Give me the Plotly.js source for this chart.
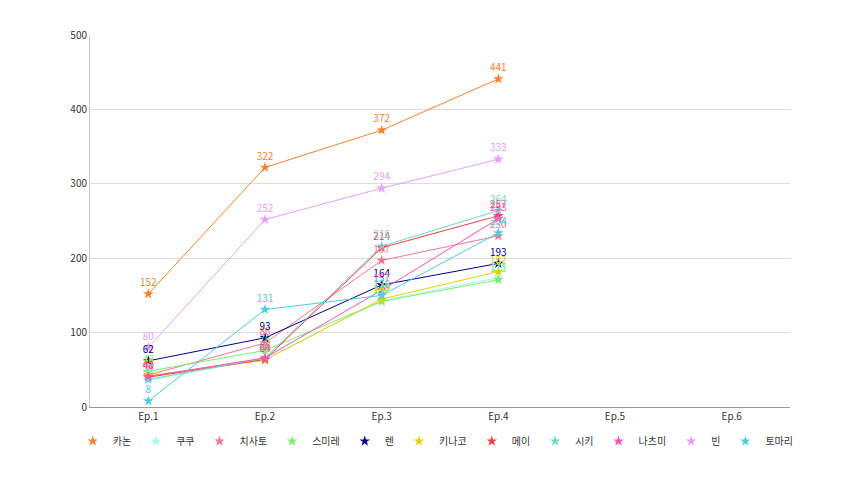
<!DOCTYPE html>
<html><head><meta charset="utf-8">
<script src="https://cdn.plot.ly/plotly-3.0.1.min.js"></script>
<style>html,body{margin:0;padding:0;background:#fff}#chart{width:850px;height:478px}</style>
</head><body><div id="chart"></div>
<script>
const episodes = ['Ep.1','Ep.2','Ep.3','Ep.4','Ep.5','Ep.6'];
const names = ['카논','쿠쿠','치사토','스미레','렌','키나코','메이','시키','나츠미','빈','토마리'];
const kanon   = [152, 322, 372, 441];
const kuku    = [36, 65, 143, 174];
const chisato = [43, 86, 197, 230];
const sumire  = [48, 76, 142, 171];
const ren     = [62, 93, 164, 193];
const kinako  = [42, 63, 145, 182];
const mei     = [40, 64, 214, 257];
const shiki   = [37, 66, 216, 264];
const natsumi = [41, 66, 157, 253];
const vien    = [80, 252, 294, 333];
const tomari  = [8, 131, 150, 234];
const seriesValues = [kanon, kuku, chisato, sumire, ren, kinako, mei, shiki, natsumi, vien, tomari];
const colors = ['#ff7f2a','#9ffcf0','#ff7392','#77f06a','#00008f','#e8d000','#ff3a3a','#6fd8cf','#ff4fbf','#e6a0fb','#4bcfe0'];

const traces = [];
// lines
names.forEach((n,i)=>{
  const v = seriesValues[i];
  traces.push({x:episodes.slice(0, v.length), y:v, type:'scatter', mode:'lines',
    line:{color:colors[i], width:1}, showlegend:false, hoverinfo:'skip', legendgroup:n});
});
// markers (legend entries)
names.forEach((n,i)=>{
  const v = seriesValues[i];
  traces.push({x:episodes.slice(0, v.length), y:v, type:'scatter', mode:'markers', name:n, legendgroup:n,
    legend: i < 6 ? 'legend' : 'legend2',
    marker:{symbol:'star', size:8, color:colors[i]}, cliponaxis:false});
});
// value labels on top (invisible markers keep the label offset)
names.forEach((n,i)=>{
  const v = seriesValues[i];
  traces.push({x:episodes.slice(0, v.length), y:v, type:'scatter', mode:'markers+text', showlegend:false,
    legendgroup:n, hoverinfo:'skip',
    marker:{symbol:'star', size:7, color:'rgba(0,0,0,0)'},
    text:v.map(String), textposition:'top center',
    textfont:{size:10, color:colors[i], family:'Noto Sans CJK KR, Noto Sans, sans-serif'},
    cliponaxis:false});
});

const legendCommon = {orientation:'h', xref:'container', yref:'container',
  y:0.077, yanchor:'middle', font:{size:10, color:'#333'}, itemwidth:30, tracegroupgap:0};

const layout = {
  width:850, height:478,
  margin:{l:90, r:60, t:35, b:71, autoexpand:false},
  paper_bgcolor:'#fff', plot_bgcolor:'#fff',
  font:{family:'Noto Sans CJK KR, Noto Sans, sans-serif', size:10, color:'#333'},
  xaxis:{type:'category', categoryorder:'array', categoryarray:episodes, range:[-0.5,5.5],
    showgrid:false, showline:true, linecolor:'#999', linewidth:1, ticks:'', zeroline:false,
    tickfont:{size:10, color:'#333'}, fixedrange:true},
  yaxis:{range:[0,500], dtick:100, showgrid:true, gridcolor:'#dddddd', gridwidth:1,
    showline:true, linecolor:'#cccccc', linewidth:1, zeroline:false, ticks:'',
    tickfont:{size:10, color:'#333'}, fixedrange:true},
  legend: Object.assign({}, legendCommon, {x:0.555, xanchor:'right'}),
  legend2: Object.assign({}, legendCommon, {x:0.555, xanchor:'left'}),
  showlegend:true
};
Plotly.newPlot('chart', traces, layout, {displayModeBar:false, staticPlot:true});
</script></body></html>
